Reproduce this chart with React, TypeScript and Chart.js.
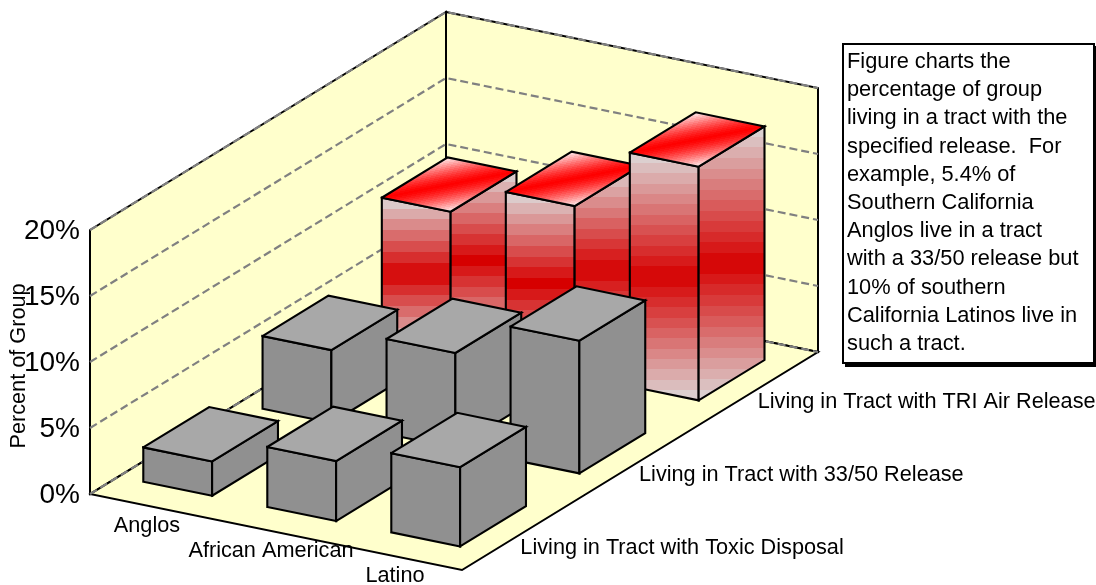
import React, { useEffect, useRef } from "react";
import { Chart, registerables } from "chart.js";

Chart.register(...registerables);

const categories = ["Anglos", "African American", "Latino"];
const seriesNames = [
  "Living in Tract with Toxic Disposal",
  "Living in Tract with 33/50 Release",
  "Living in Tract with TRI Air Release",
];
const toxicDisposal = [2.6, 4.55, 6.0];
const release3350 = [5.5, 7.2, 10.05];
const triAirRelease = [10.45, 12.8, 17.7];
const yTicks = [0, 5, 10, 15, 20];
const noteLines = [
  "Figure charts the",
  "percentage of group",
  "living in a tract with the",
  "specified release.  For",
  "example, 5.4% of",
  "Southern California",
  "Anglos live in a tract",
  "with a 33/50 release but",
  "10% of southern",
  "California Latinos live in",
  "such a tract.",
];

const W = 1096;
const H = 585;
const FONT = '"Liberation Sans", Arial, sans-serif';
const ORIGIN_X = 90;
const ORIGIN_Y = 494;
const PX_PER_PCT = 13.2;
const CAT_VEC = [372, 76];
const SER_VEC = [356, -218];
const BAR_MARGIN_A = 0.0669;
const BAR_MARGIN_B = 0.0798;
const BAR_SIZE = 0.185;
const ROW_STEP = 0.335;
const WALL = "#ffffcc";

type P = { x: number; y: number };
// a: along categories (0..1), b: along series (0..1), v: percent
const proj = (a: number, b: number, v: number): P => ({
  x: ORIGIN_X + a * CAT_VEC[0] + b * SER_VEC[0],
  y: v - (a * CAT_VEC[1] + b * SER_VEC[1]) / PX_PER_PCT,
});

const mix = (t: number, from: number[], to: number[]) =>
  `rgb(${from.map((f, i) => Math.round(f + (to[i] - f) * t)).join(",")})`;

function bandGradient(
  g: CanvasGradient,
  n: number,
  mid: number[],
  end: number[],
  power = 1
) {
  for (let i = 0; i < n; i++) {
    const t = Math.pow(Math.abs((i + 0.5) / n - 0.5) * 2, power);
    const c = mix(t, mid, end);
    g.addColorStop(i / n, c);
    g.addColorStop((i + 1) / n, c);
  }
  return g;
}

const poly = (pts: P[], fill: any, border = "#000", borderWidth = 2.1) => ({
  data: [...pts, pts[0]],
  fill: "shape",
  backgroundColor: fill,
  borderColor: border,
  borderWidth,
  pointRadius: 0,
  tension: 0,
  clip: false,
  borderJoinStyle: "miter",
  borderCapStyle: "square",
});

const line = (pts: P[], color: string, width: number, dash: number[] = []) => ({
  data: pts,
  fill: false,
  borderColor: color,
  borderWidth: width,
  borderDash: dash,
  pointRadius: 0,
  tension: 0,
  clip: false,
});

const toPx = (chart: any, p: P): P => ({
  x: chart.scales.x.getPixelForValue(p.x),
  y: chart.scales.y.getPixelForValue(p.y),
});

const ready = (chart: any) =>
  chart.scales.x && chart.scales.y && Number.isFinite(chart.scales.y.getPixelForValue(0)) && Number.isFinite(chart.scales.x.getPixelForValue(100));

const verticalBands = (pts: P[]) => (c: any) => {
  const chart = c.chart;
  if (!ready(chart)) return "#d60000";
  const ys = pts.map((p) => toPx(chart, p).y);
  const top = Math.min(...ys);
  const bot = Math.max(...ys);
  const g = chart.ctx.createLinearGradient(0, top, 0, bot);
  return bandGradient(g, Math.round((bot - top) / 10.5), [214, 0, 0], [220, 216, 216]);
};

const topBands = (pts: P[]) => (c: any) => {
  const chart = c.chart;
  if (!ready(chart)) return "#ff0000";
  // pts: front-left, front-right, back-right, back-left
  const [l, f, r, k] = [pts[0], pts[1], pts[2], pts[3]].map((p) => toPx(chart, p));
  let nx = -(r.y - l.y);
  let ny = r.x - l.x;
  const len = Math.hypot(nx, ny);
  nx /= len;
  ny /= len;
  const dF = (f.x - l.x) * nx + (f.y - l.y) * ny;
  const dK = (k.x - l.x) * nx + (k.y - l.y) * ny;
  const g = chart.ctx.createLinearGradient(
    l.x + nx * dK,
    l.y + ny * dK,
    l.x + nx * dF,
    l.y + ny * dF
  );
  return bandGradient(g, 31, [255, 0, 0], [255, 245, 245], 1.4);
};

function barFaces(i: number, j: number, v: number, red: boolean) {
  const a0 = i / 3 + BAR_MARGIN_A;
  const a1 = a0 + BAR_SIZE;
  const b0 = j * ROW_STEP + BAR_MARGIN_B;
  const b1 = b0 + BAR_SIZE;
  const front = [proj(a0, b0, 0), proj(a1, b0, 0), proj(a1, b0, v), proj(a0, b0, v)];
  const side = [proj(a1, b0, 0), proj(a1, b1, 0), proj(a1, b1, v), proj(a1, b0, v)];
  const top = [proj(a0, b0, v), proj(a1, b0, v), proj(a1, b1, v), proj(a0, b1, v)];
  return [
    poly(front, red ? verticalBands(front) : "#909090"),
    poly(side, red ? verticalBands(side) : "#909090"),
    poly(top, red ? topBands(top) : "#a8a8a8"),
  ];
}

function buildDatasets() {
  const out: any[] = [];
  out.push(poly([proj(0, 0, 0), proj(0, 1, 0), proj(0, 1, 20), proj(0, 0, 20)], WALL, "#000", 2));
  out.push(poly([proj(0, 1, 0), proj(1, 1, 0), proj(1, 1, 20), proj(0, 1, 20)], WALL, "#000", 2));
  out.push(poly([proj(0, 0, 0), proj(1, 0, 0), proj(1, 1, 0), proj(0, 1, 0)], WALL, "#000", 2));
  for (const v of yTicks) {
    out.push(line([proj(0, 0, v), proj(0, 1, v), proj(1, 1, v)], "#808080", 2.2, [8, 4]));
  }
  const rows = [triAirRelease, release3350, toxicDisposal];
  rows.forEach((vals, r) => {
    const j = 2 - r;
    vals.forEach((v, i) => out.push(...barFaces(i, j, v, j === 2)));
  });
  return out.reverse(); // Chart.js paints the first dataset last
}

const freeText = {
  id: "freeText",
  afterDatasetsDraw(chart: any) {
    const ctx = chart.ctx;
    ctx.save();
    ctx.fillStyle = "#000";
    ctx.textBaseline = "middle";
    ctx.font = `21.7px ${FONT}`;
    ctx.textAlign = "center";
    categories.forEach((c, i) => {
      const p = toPx(chart, proj((i + 0.5) / 3, 0, 0));
      ctx.fillText(c, p.x - 5, p.y + 19);
    });
    ctx.textAlign = "left";
    seriesNames.forEach((s, j) => {
      const p = toPx(chart, proj(1, (j + 0.5) / 3, 0));
      ctx.fillText(s, p.x - 1, p.y + 14);
    });
    ctx.translate(19, 366);
    ctx.rotate(-Math.PI / 2);
    ctx.textAlign = "center";
    ctx.fillText("Percent of Group", 0, 0);
    ctx.restore();
  },
};

export default function App() {
  const ref = useRef<HTMLCanvasElement>(null);
  useEffect(() => {
    const chart = new Chart(ref.current as HTMLCanvasElement, {
      type: "line",
      data: { datasets: buildDatasets() },
      plugins: [freeText],
      options: {
        animation: false,
        responsive: false,
        layout: { padding: 0, autoPadding: false },
        plugins: { legend: { display: false }, tooltip: { enabled: false } },
        scales: {
          x: {
            type: "linear",
            display: false,
            min: ORIGIN_X,
            max: W,
          },
          y: {
            type: "linear",
            min: (ORIGIN_Y - H) / PX_PER_PCT,
            max: ORIGIN_Y / PX_PER_PCT,
            grid: { display: false },
            border: { display: false },
            afterFit: (s: any) => {
              s.width = ORIGIN_X;
              s.paddingTop = 0;
              s.paddingBottom = 0;
            },
            afterBuildTicks: (s: any) => {
              s.ticks = yTicks.map((value) => ({ value }));
            },
            ticks: {
              autoSkip: false,
              padding: 2,
              labelOffset: 1.5,
              color: "#000",
              font: { family: FONT, size: 28 },
              callback: (v: any) => `${v}%`,
            },
          },
        },
      },
    } as any);
    return () => chart.destroy();
  }, []);
  return (
    <div style={{ position: "absolute", left: 0, top: 0, width: W, height: H, overflow: "hidden", background: "#fff" }}>
      <canvas ref={ref} width={W} height={H} style={{ display: "block" }} />
      <div
        style={{
          position: "absolute",
          left: 842,
          top: 43,
          width: 246,
          height: 315,
          border: "2px solid #000",
          boxShadow: "3px 3px 0 #000",
          background: "#fff",
          fontFamily: FONT,
          fontSize: 21.8,
          lineHeight: "28.2px",
          whiteSpace: "pre",
          paddingLeft: 3,
          paddingTop: 2,
          boxSizing: "content-box",
          color: "#000",
        }}
      >
        {noteLines.join("\n")}
      </div>
    </div>
  );
}
